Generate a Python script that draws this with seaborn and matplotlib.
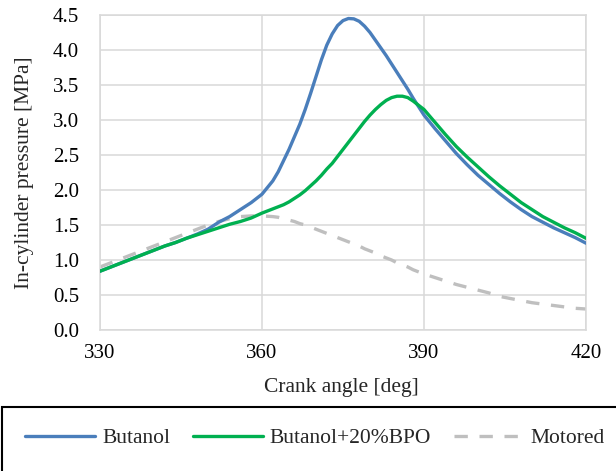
import matplotlib
matplotlib.use("Agg")
import matplotlib.pyplot as plt
import seaborn as sns
from matplotlib.patches import Rectangle
from matplotlib.lines import Line2D

angle = [330, 332, 334, 336, 338, 340, 342, 344, 346, 348, 350, 352, 354, 356, 358, 360, 362,
         363, 364, 365, 366, 367, 368, 369, 370, 371, 372, 373, 374, 375, 376, 377, 378, 379,
         380, 381, 382, 383, 384, 385, 386, 387, 388, 389, 390,
         392, 394, 396, 398, 400, 402, 404, 406, 408, 410, 412, 414, 416, 418, 420]

butanol = [0.84, 0.90, 0.96, 1.02, 1.08, 1.14, 1.20, 1.25, 1.31, 1.37, 1.44, 1.54, 1.62, 1.72, 1.82, 1.94, 2.13,
           2.26, 2.42, 2.58, 2.76, 2.94, 3.15, 3.38, 3.62, 3.86, 4.07, 4.23, 4.35, 4.42, 4.45, 4.445, 4.41, 4.34,
           4.25, 4.14, 4.03, 3.92, 3.80, 3.68, 3.56, 3.44, 3.31, 3.19, 3.07,
           2.88, 2.70, 2.52, 2.36, 2.21, 2.08, 1.95, 1.83, 1.72, 1.62, 1.54, 1.46, 1.39, 1.32, 1.24]

butanol_bpo = [0.84, 0.90, 0.96, 1.02, 1.08, 1.14, 1.20, 1.25, 1.31, 1.36, 1.41, 1.46, 1.51, 1.55, 1.60, 1.67, 1.73,
               1.76, 1.79, 1.83, 1.88, 1.93, 1.99, 2.06, 2.13, 2.21, 2.30, 2.38, 2.48, 2.58, 2.68, 2.78, 2.88, 2.98,
               3.07, 3.15, 3.22, 3.28, 3.32, 3.34, 3.34, 3.32, 3.27, 3.21, 3.15,
               2.97, 2.79, 2.62, 2.47, 2.33, 2.19, 2.06, 1.94, 1.82, 1.72, 1.62, 1.54, 1.46, 1.39, 1.31]

motored = [0.90, 0.96, 1.02, 1.08, 1.14, 1.20, 1.26, 1.32, 1.38, 1.44, 1.50, 1.55, 1.59, 1.62, 1.63, 1.63, 1.62,
           1.61, 1.59, 1.57, 1.55, 1.52, 1.50, 1.47, 1.44, 1.41, 1.38, 1.35, 1.32, 1.29, 1.26, 1.23, 1.20, 1.16,
           1.13, 1.10, 1.06, 1.03, 1.00, 0.96, 0.93, 0.90, 0.86, 0.83, 0.80,
           0.75, 0.70, 0.65, 0.61, 0.57, 0.53, 0.48, 0.45, 0.42, 0.39, 0.37, 0.35, 0.33, 0.31, 0.30]

series_names = ["Butanol", "Butanol+20%BPO", "Motored"]
x_ticks = [330, 360, 390, 420]
y_ticks = [0.0, 0.5, 1.0, 1.5, 2.0, 2.5, 3.0, 3.5, 4.0, 4.5]

sns.set_style("white")
plt.rcParams["font.family"] = ["Liberation Serif", "DejaVu Serif"]

fig = plt.figure(figsize=(6.16, 4.71), dpi=100)
ax = fig.add_axes([100/616, 1 - 330/471, 486/616, 315/471])

colors = ["#4A7EBB", "#00B050", "#BFBFBF"]
lw = 2.4
sns.lineplot(x=angle, y=butanol, ax=ax, color=colors[0], linewidth=lw, zorder=3)
sns.lineplot(x=angle, y=butanol_bpo, ax=ax, color=colors[1], linewidth=lw, zorder=4)
sns.lineplot(x=angle, y=motored, ax=ax, color=colors[2], linewidth=lw, zorder=2)
ax.lines[2].set_dashes((4, 3.5))

ax.set_xlim(330, 420)
ax.set_ylim(0, 4.5)
ax.set_xticks(x_ticks)
ax.set_yticks(y_ticks)
ax.set_yticklabels([f"{v:.1f}" for v in y_ticks])
ax.grid(True, color="#D9D9D9", linewidth=1.1)
ax.set_axisbelow(True)
for s in ax.spines.values():
    s.set_color("#D9D9D9")
    s.set_linewidth(1.1)
ax.tick_params(axis="both", length=0, labelsize=15, colors="black")
ax.tick_params(axis="y", pad=15)
ax.tick_params(axis="x", pad=10)
ax.set_xlabel("Crank angle [deg]", fontsize=15.5)
ax.set_ylabel("In-cylinder pressure [MPa]", fontsize=15.5)
ax.xaxis.set_label_coords((341.5 - 100) / 486, -48 / 315)
ax.yaxis.set_label_coords((34 - 100) / 486, 0.5)

# legend box
fig.patches.append(Rectangle((2.5/616, -0.01), 620/616, (471 - 407)/471 + 0.01, transform=fig.transFigure,
                             fill=False, edgecolor="black", linewidth=1.5))
handles = [Line2D([], [], color=colors[0], linewidth=lw),
           Line2D([], [], color=colors[1], linewidth=lw),
           Line2D([], [], color=colors[2], linewidth=lw, dashes=(4, 3.5))]
fig.legend(handles, series_names, loc="center", bbox_to_anchor=(315/616, 1 - 438/471),
           ncol=3, frameon=False, fontsize=15.5, handlelength=3.25, handletextpad=0.33,
           columnspacing=1.05, borderpad=0, borderaxespad=0)

fig.savefig("out.png", dpi=100)
